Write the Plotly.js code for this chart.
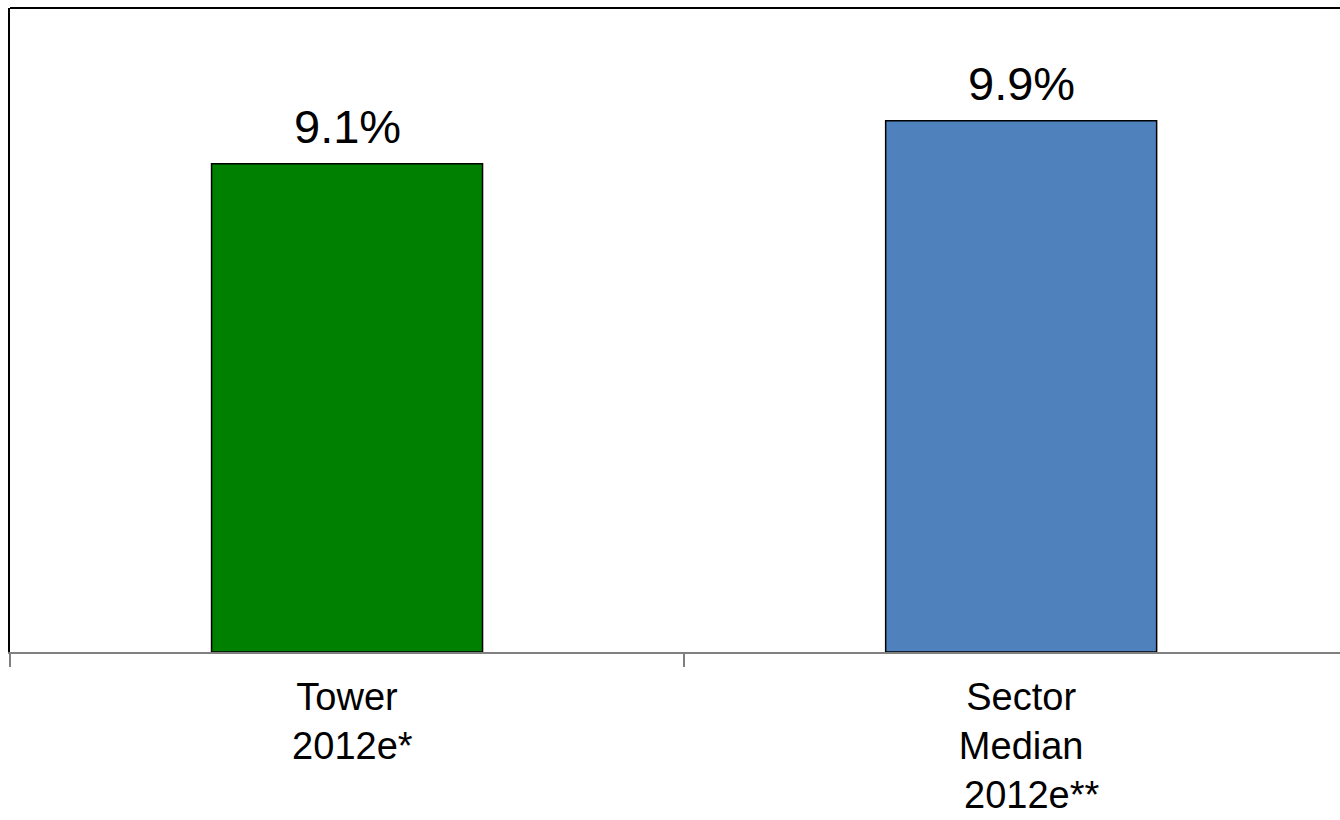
<!DOCTYPE html>
<html>
<head>
<meta charset="utf-8">
<script src="https://cdn.plot.ly/plotly-3.0.1.min.js"></script>
<style>html,body{margin:0;padding:0;background:#fff;overflow:hidden}</style>
</head>
<body>
<div id="chart" style="width:1340px;height:820px"></div>
<script>
const categories = ["Tower<br>\u00a02012e*", "Sector<br>Median<br>\u00a0\u00a02012e**"];
const values = [9.1, 9.9];
const valueLabels = ["9.1%", "9.9%"];
const barColors = ["#008000", "#4F81BD"];

const trace = {
  type: "bar",
  x: categories,
  y: values,
  marker: {color: barColors, line: {color: "#000000", width: 1.5}},
  width: 0.402,
  hoverinfo: "skip"
};

const annotations = categories.map((c, i) => ({
  x: c, y: values[i], xref: "x", yref: "y",
  text: valueLabels[i], showarrow: false,
  yanchor: "bottom", yshift: 9,
  font: {size: 47, color: "#000", family: "Liberation Sans, Arial, sans-serif"}
}));

const layout = {
  width: 1340, height: 820,
  margin: {l: 10, r: 0, t: 8, b: 168, pad: 0},
  paper_bgcolor: "#fff", plot_bgcolor: "#fff",
  font: {family: "Liberation Sans, Arial, sans-serif", color: "#000"},
  showlegend: false,
  xaxis: {
    type: "category",
    range: [-0.5, 1.473],
    tickson: "boundaries",
    ticks: "outside", ticklen: 13, tickwidth: 1.5, tickcolor: "#808080",
    showline: true, linecolor: "#808080", linewidth: 2,
    showgrid: false, zeroline: false,
    tickfont: {size: 38, color: "#000"},
    ticklabelstandoff: 10,
    fixedrange: true
  },
  yaxis: {
    range: [0, 12],
    showticklabels: false, ticks: "",
    showgrid: false, zeroline: false,
    showline: true, linecolor: "#000", linewidth: 2,
    fixedrange: true
  },
  shapes: [{
    type: "line", xref: "paper", yref: "paper",
    x0: 0, x1: 1, y0: 1, y1: 1,
    line: {color: "#000", width: 2}
  }],
  annotations: annotations
};

Plotly.newPlot("chart", [trace], layout, {displayModeBar: false, staticPlot: true});
</script>
</body>
</html>
